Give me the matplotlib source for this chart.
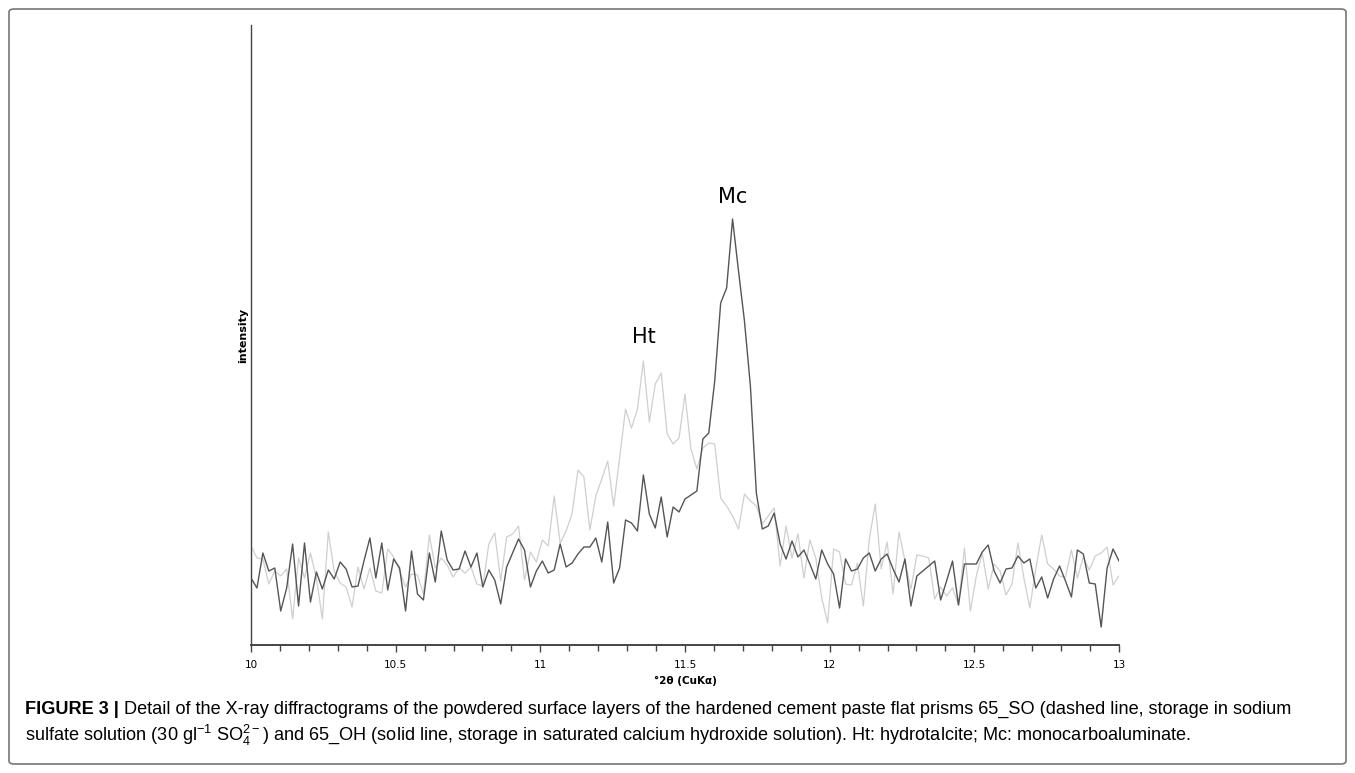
import matplotlib
matplotlib.use("Agg")
import matplotlib.pyplot as plt
import numpy as np
from matplotlib.patches import FancyBboxPatch

# 65_OH (solid, dark) and 65_SO (light) diffractogram detail, 10-13 deg 2theta
oh_counts = [67, 57, 92, 74, 77, 34, 57, 101, 39, 102,
             43, 73, 56, 75, 66, 83, 76, 58, 59, 84,
             107, 67, 102, 55, 86, 77, 34, 94, 51, 45,
             92, 63, 114, 85, 75, 76, 94, 78, 92, 58,
             75, 65, 41, 78, 92, 106, 95, 58, 74, 84,
             72, 75, 101, 78, 82, 91, 98, 98, 107, 83,
             123, 62, 77, 125, 122, 114, 170, 131, 117, 148,
             108, 138, 133, 146, 150, 154, 206, 212, 264, 342,
             357, 426, 374, 324, 259, 152, 116, 119, 132, 101,
             86, 104, 88, 95, 81, 66, 95, 81, 71, 37,
             86, 74, 76, 87, 92, 74, 86, 91, 76, 63,
             86, 39, 69, 74, 79, 84, 45, 64, 84, 40,
             81, 81, 81, 93, 100, 74, 62, 76, 77, 89,
             82, 86, 57, 68, 47, 66, 79, 64, 48, 95,
             91, 62, 61, 18, 77, 96, 84]

so_counts = [99, 87, 86, 61, 74, 69, 76, 26, 87, 67,
             92, 67, 26, 113, 74, 62, 58, 38, 78, 56,
             77, 54, 52, 96, 88, 74, 58, 71, 70, 51,
             110, 77, 87, 80, 68, 77, 72, 78, 61, 59,
             101, 112, 64, 108, 111, 119, 65, 93, 83, 105,
             99, 149, 102, 114, 131, 175, 168, 115, 149, 166,
             184, 139, 187, 236, 217, 236, 284, 223, 261, 272,
             211, 201, 207, 251, 196, 176, 197, 202, 201, 147,
             139, 129, 116, 151, 144, 139, 121, 129, 137, 79,
             119, 87, 111, 67, 105, 87, 47, 22, 96, 93,
             61, 60, 82, 39, 106, 141, 76, 103, 51, 113,
             84, 56, 90, 89, 87, 46, 58, 49, 57, 40,
             97, 34, 69, 92, 56, 81, 74, 50, 61, 102,
             67, 37, 76, 110, 81, 76, 69, 68, 95, 67,
             88, 75, 89, 92, 98, 60, 69]

two_theta = np.linspace(10, 13, len(oh_counts))
x_ticks = [10, 10.5, 11, 11.5, 12, 12.5, 13]
x_tick_labels = ["10", "10.5", "11", "11.5", "12", "12.5", "13"]

plt.rcParams["mathtext.fontset"] = "custom"
plt.rcParams["mathtext.rm"] = "Liberation Sans"
plt.rcParams["mathtext.it"] = "Liberation Sans:italic"

fig = plt.figure(figsize=(13.55, 7.73), dpi=100)
fig.patch.set_facecolor("white")

# rounded frame around figure + caption
frame = FancyBboxPatch((9 / 1355, 9 / 773), 1337 / 1355, 755 / 773,
                       boxstyle="round,pad=0,rounding_size=0.004",
                       transform=fig.transFigure, facecolor="none",
                       edgecolor="#777777", linewidth=1.2)
fig.patches.append(frame)

ax = fig.add_axes([251 / 1355, 1 - 645 / 773, 868 / 1355, 620 / 773])
ax.plot(two_theta, so_counts, color="#cfcfcf", lw=0.9)
ax.plot(two_theta, oh_counts, color="#555555", lw=1.0)

ax.set_xlim(10, 13)
ax.set_ylim(0, 620)
ax.set_yticks([])
ax.set_xticks(x_ticks)
ax.set_xticklabels(x_tick_labels, fontsize=7.5)
ax.set_xticks(np.arange(10, 13.01, 0.1), minor=True)
ax.tick_params(axis="x", which="major", length=5, width=1, color="#444444", pad=6)
ax.tick_params(axis="x", which="minor", length=4, width=1, color="#444444")
for side in ["top", "right"]:
    ax.spines[side].set_visible(False)
ax.spines["bottom"].set_color("#444444")
ax.spines["bottom"].set_linewidth(1.4)
ax.spines["left"].set_color("#444444")
ax.spines["left"].set_linewidth(1.0)

ax.set_xlabel("°2θ (CuKα)", fontsize=7.5, fontweight="bold", labelpad=4)
ax.set_ylabel("intensity", fontsize=8, fontweight="bold", labelpad=2)

# phase labels above the peaks
i_mc = int(np.argmax(oh_counts))
i_ht = int(np.argmax(so_counts))
ax.text(two_theta[i_mc], oh_counts[i_mc] + 22, "Mc", fontsize=15,
        ha="center", va="center")
ax.text(two_theta[i_ht], so_counts[i_ht] + 24, "Ht", fontsize=15,
        ha="center", va="center")

# caption
cap_font = ["Liberation Sans", "DejaVu Sans"]
cap_size = 13.1
t1 = fig.text(25 / 1355, 1 - 714 / 773, "FIGURE 3 |", fontsize=cap_size,
              fontweight="bold", family=cap_font, va="baseline")
ax.annotate(" Detail of the X-ray diffractograms of the powdered surface layers of the "
            "hardened cement paste flat prisms 65_SO (dashed line, storage in sodium",
            xy=(1, 1 - 714 / 773), xycoords=(t1, "figure fraction"),
            fontsize=cap_size, family=cap_font, va="baseline", ha="left")
fig.text(25 / 1355, 1 - 741 / 773,
         r"sulfate solution (30 gl$^{-1}$ SO$_4^{2-}$) and 65_OH (solid line, storage in "
         "saturated calcium hydroxide solution). Ht: hydrotalcite; Mc: monocarboaluminate.",
         fontsize=cap_size, family=cap_font, va="baseline")

fig.savefig("out.png", dpi=100)
